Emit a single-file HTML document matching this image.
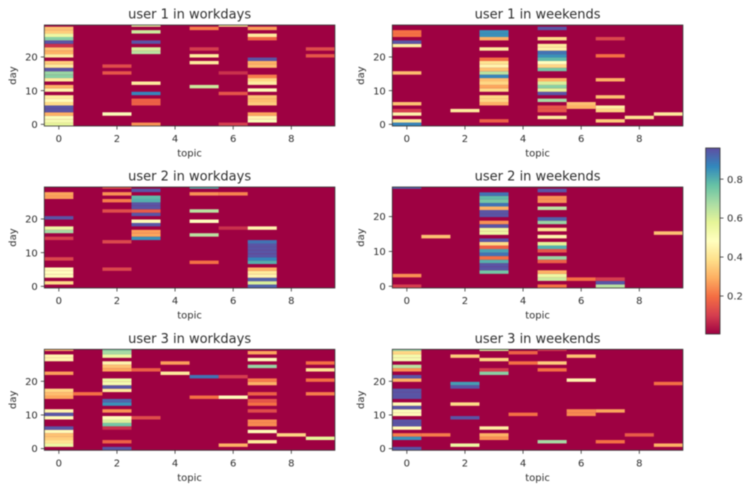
<!DOCTYPE html>
<html lang="en">
<head>
<meta charset="utf-8">
<title>User topic heatmaps</title>
<style>
html,body{margin:0;padding:0;background:#fff;width:748px;height:490px;overflow:hidden}
#figure{display:block;filter:blur(0.6px)}
text{font-family:"DejaVu Sans","Liberation Sans",sans-serif;fill:#2e2e2e}
</style>
</head>
<body>
<svg id="figure" xmlns="http://www.w3.org/2000/svg" width="748" height="490" viewBox="0 0 748 490">
<defs><linearGradient id="cbar-gradient" x1="0" y1="1" x2="0" y2="0"></linearGradient></defs>
</svg>
<script>
// Each panel: one list per topic (0-9) of [day, value] pairs; unlisted cells are ~0.
const user1Workdays = [
 [[0,.57],[1,.52],[2,.5],[3,.3],[4,.95],[5,.95],[6,.38],[7,.47],[8,.42],[10,.45],[11,.3],[13,.42],[14,.72],[15,.7],[16,.95],[17,.42],[18,.35],[20,.42],[21,.3],[22,.33],[23,.08],[24,.95],[25,.72],[26,.55],[27,.35],[28,.33]],
 [],
 [[3,.5],[15,.15],[17,.13]],
 [[0,.25],[6,.17],[7,.17],[9,.87],[12,.42],[21,.65],[22,.6],[24,.95],[27,.62],[29,.55]],
 [],
 [[11,.62],[18,.42],[20,.42],[22,.1],[28,.22]],
 [[0,.1],[9,.15],[15,.08],[29,.4]],
 [[1,.5],[2,.45],[3,.28],[6,.35],[7,.32],[8,.33],[10,.47],[12,.43],[13,.37],[14,.22],[17,.32],[18,.3],[19,.95],[25,.18],[26,.42],[28,.27]],
 [],
 [[20,.15],[22,.13]]
];
const user1Weekends = [
 [[0,.87],[1,.42],[3,.45],[4,.1],[6,.33],[15,.32],[23,.43],[24,.95],[26,.2],[27,.2]],
 [],
 [[4,.42]],
 [[1,.17],[6,.3],[7,.37],[8,.37],[10,.38],[11,.28],[12,.37],[13,.33],[14,.87],[15,.65],[16,.33],[17,.45],[18,.4],[19,.2],[22,.42],[25,.3],[26,.85],[27,.85]],
 [],
 [[2,.42],[4,.15],[5,.15],[7,.68],[9,.95],[10,.58],[11,.72],[12,.6],[13,.3],[16,.75],[17,.37],[18,.48],[19,.78],[20,.85],[21,.9],[22,.44],[23,.42],[25,.38],[28,.95]],
 [[5,.3],[6,.33]],
 [[1,.35],[4,.37],[5,.43],[8,.33],[13,.3],[20,.2],[25,.12]],
 [[2,.4]],
 [[3,.42]]
];
const user2Workdays = [
 [[1,.38],[3,.47],[4,.48],[5,.47],[8,.12],[14,.1],[16,.68],[17,.55],[20,.95],[26,.27],[27,.28]],
 [],
 [[5,.12],[13,.12],[22,.13],[25,.22],[27,.25],[29,.15]],
 [[14,.85],[15,.28],[16,.27],[18,.95],[19,.5],[21,.95],[22,.16],[23,.95],[24,.95],[25,.8],[26,.78],[28,.95]],
 [],
 [[7,.2],[15,.65],[19,.48],[22,.65],[27,.25],[29,.8]],
 [[17,.08],[27,.23]],
 [[0,.93],[1,.6],[2,.93],[3,.45],[4,.42],[5,.3],[7,.8],[8,.87],[9,.95],[10,.95],[11,.95],[12,.95],[13,.9],[17,.45]],
 [],
 []
];
const user2Weekends = [
 [[0,.1],[3,.25],[28,.93]],
 [[14,.33]],
 [],
 [[4,.75],[5,.95],[6,.95],[7,.8],[8,.2],[9,.9],[10,.82],[11,.17],[12,.38],[13,.95],[15,.55],[16,.55],[17,.95],[18,.25],[20,.95],[21,.95],[22,.3],[23,.9],[24,.75],[25,.78],[26,.9]],
 [],
 [[0,.2],[2,.62],[3,.55],[4,.3],[7,.17],[8,.7],[10,.15],[11,.8],[12,.58],[14,.45],[16,.4],[18,.7],[19,.93],[22,.65],[24,.25],[25,.25],[27,.95]],
 [[2,.2]],
 [[0,.65],[1,.95],[2,.1]],
 [],
 [[15,.33]]
];
const user3Workdays = [
 [[1,.55],[2,.4],[3,.35],[4,.33],[5,.47],[6,.95],[9,.47],[10,.95],[11,.45],[15,.28],[16,.32],[17,.37],[22,.27],[26,.45],[27,.45],[29,.3]],
 [[16,.2]],
 [[0,.95],[2,.17],[6,.08],[7,.75],[8,.6],[9,.47],[11,.25],[13,.85],[14,.92],[17,.42],[18,.95],[19,.52],[20,.55],[23,.28],[24,.33],[25,.45],[27,.55],[28,.68],[29,.72]],
 [[9,.13],[23,.17]],
 [[22,.42],[25,.27]],
 [[15,.2],[21,.9]],
 [[1,.3],[15,.47],[21,.1]],
 [[2,.42],[5,.47],[7,.24],[8,.24],[11,.13],[13,.2],[14,.15],[16,.17],[19,.3],[20,.22],[24,.7],[26,.47],[28,.28]],
 [[4,.37]],
 [[3,.57],[16,.22],[20,.2],[23,.4],[25,.2]]
];
const user3Weekends = [
 [[0,.95],[3,.85],[4,.22],[6,.47],[7,.95],[8,.95],[10,.47],[11,.5],[12,.95],[13,.47],[15,.95],[16,.95],[17,.95],[20,.3],[21,.95],[23,.25],[24,.65],[26,.52],[27,.53],[28,.37],[29,.7]],
 [[4,.22]],
 [[1,.55],[9,.95],[13,.38],[18,.95],[19,.83],[27,.35]],
 [[3,.25],[4,.3],[6,.43],[22,.72],[23,.1],[26,.37],[29,.6]],
 [[10,.2],[25,.2],[28,.17]],
 [[2,.68],[23,.2],[25,.35],[29,.1]],
 [[10,.24],[11,.24],[20,.45],[27,.33]],
 [[2,.2],[11,.28]],
 [[4,.16]],
 [[1,.3],[19,.2]]
];
const panelTitles = ["user 1 in workdays","user 1 in weekends","user 2 in workdays","user 2 in weekends","user 3 in workdays","user 3 in weekends"];
const panelData = [user1Workdays,user1Weekends,user2Workdays,user2Weekends,user3Workdays,user3Weekends];
const panelDayCounts = [30,30,30,29,30,30];
const topicCount = 10;
const xTickLabels = [0,2,4,6,8];
const yTickLabels = [0,10,20];
const colorbarTicks = [0.2,0.4,0.6,0.8];
const spectralStops = [[158,1,66],[213,62,79],[244,109,67],[253,174,97],[254,224,139],[255,255,191],[230,245,152],[171,221,164],[102,194,165],[50,136,189],[94,79,162]];
const valueMin = 0.005;
const valueMax = 0.96;

const NS = "http://www.w3.org/2000/svg";
const svg = document.getElementById("figure");
function make(tag, attrs, parent, text){
  const el = document.createElementNS(NS, tag);
  for (const k in attrs) el.setAttribute(k, attrs[k]);
  if (text !== undefined) el.textContent = text;
  parent.appendChild(el);
  return el;
}
function colorAt(t){
  t = Math.max(0, Math.min(1, t)) * (spectralStops.length - 1);
  const i = Math.min(Math.floor(t), spectralStops.length - 2), f = t - i;
  const a = spectralStops[i], b = spectralStops[i + 1];
  return "rgb(" + a.map((c, n) => Math.round(c + (b[n] - c) * f)).join(",") + ")";
}
function valueColor(v){ return colorAt((v - valueMin) / (valueMax - valueMin)); }

const columnLefts = [44.3, 392.3];
const rowTops = [25, 187, 349.3];
const axisWidth = 290.6, axisHeight = 101;

panelData.forEach(function(panel, p){
  const left = columnLefts[p % 2], top = rowTops[Math.floor(p / 2)];
  const days = panelDayCounts[p];
  const bottom = top + axisHeight;
  const xScale = t => left + (t + 0.5) * axisWidth / topicCount;
  // Rows fill [-0.5, days-1]: the newest row is half clipped by the top of the axes.
  const cellH = axisHeight / (days - 0.5);
  const cellScale = d => bottom - (d + 0.5) * cellH;
  const tickScale = d => bottom - (d + 0.5) * axisHeight / days;
  const cellW = axisWidth / topicCount;

  const g = make("g", {}, svg);
  
  

  const bg = make("rect", {x:left, y:top, width:axisWidth, height:axisHeight, fill:valueColor(0.005)}, g);
  
  

  panel.forEach(function(cells, topic){
    cells.forEach(function(cell){
      const y0 = Math.max(top, cellScale(cell[0]) - cellH / 2);
      const y1 = Math.min(bottom, cellScale(cell[0]) + cellH / 2);
      const rect = make("rect", {x:xScale(topic) - cellW / 2, y:y0, width:cellW, height:y1 - y0, fill:valueColor(cell[1])}, g);
      
      
    });
  });

  const frame = make("rect", {x:left, y:top, width:axisWidth, height:axisHeight, fill:"none", stroke:"#333", "stroke-width":0.8}, g);
  
  

  xTickLabels.forEach(function(t){
    const tick = make("line", {x1:xScale(t), x2:xScale(t), y1:bottom, y2:bottom + 3.5, stroke:"#333", "stroke-width":0.8}, g);
    
    
    const label = make("text", {x:xScale(t), y:bottom + 16, "text-anchor":"middle", "font-size":10}, g, String(t));
    
    
  });
  yTickLabels.forEach(function(d){
    const tick = make("line", {x1:left - 3.5, x2:left, y1:tickScale(d), y2:tickScale(d), stroke:"#333", "stroke-width":0.8}, g);
    
    
    const label = make("text", {x:left - 6.5, y:tickScale(d) + 3.6, "text-anchor":"end", "font-size":10}, g, String(d));
    
    
  });

  const title = make("text", {x:left + axisWidth / 2, y:top - 6.5, "text-anchor":"middle", "font-size":13}, g, panelTitles[p]);
  
  

  const xTitle = make("text", {x:left + axisWidth / 2, y:bottom + 30.5, "text-anchor":"middle", "font-size":10}, g, "topic");
  
  

  const yX = left - 28.5, yY = top + axisHeight / 2;
  const yTitle = make("text", {x:yX, y:yY, "text-anchor":"middle", "font-size":10, transform:"rotate(-90 " + yX + " " + yY + ")"}, g, "day");
  
  
});

// Colorbar
const barX = 705.7, barW = 14.3, barTop = 148, barH = 186;
const gradient = document.getElementById("cbar-gradient");
spectralStops.forEach(function(s, i){
  make("stop", {offset:(i / (spectralStops.length - 1)), "stop-color":"rgb(" + s.join(",") + ")"}, gradient);
});
const barScale = v => barTop + barH - (v - valueMin) / (valueMax - valueMin) * barH;
const cbar = make("g", {}, svg);


const barRect = make("rect", {x:barX, y:barTop, width:barW, height:barH, fill:"url(#cbar-gradient)", stroke:"#333", "stroke-width":0.8}, cbar);


colorbarTicks.forEach(function(v){
  const tick = make("line", {x1:barX + barW, x2:barX + barW + 3.5, y1:barScale(v), y2:barScale(v), stroke:"#333", "stroke-width":0.8}, cbar);
  
  
  const label = make("text", {x:barX + barW + 7, y:barScale(v) + 3.6, "font-size":10}, cbar, v.toFixed(1));
  
  
});
</script>
</body>
</html>
